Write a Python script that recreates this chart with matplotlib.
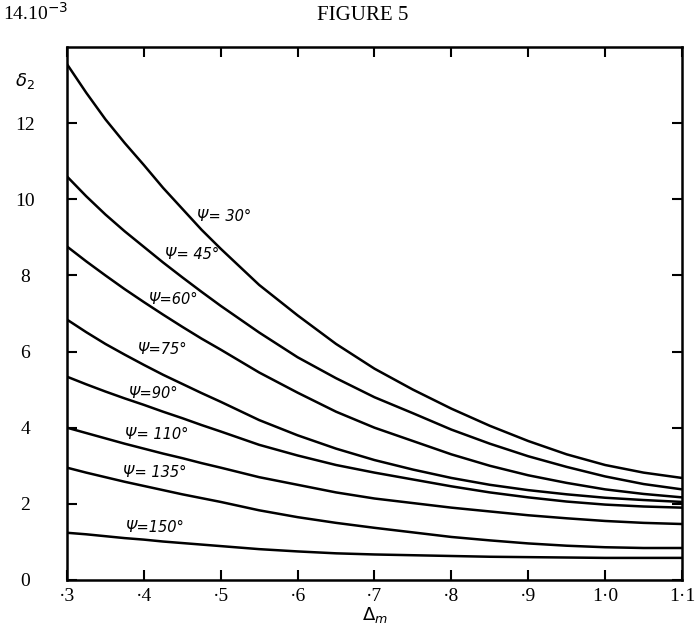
import numpy as np
import matplotlib.pyplot as plt

# delta_m values (x) and delta_2 curves (units of 1e-3)
delta_m = [0.300, 0.325, 0.350, 0.375, 0.400, 0.425, 0.450, 0.475, 0.50,
           0.55, 0.60, 0.65, 0.70, 0.75, 0.80, 0.85, 0.90, 0.95, 1.00,
           1.05, 1.10]

psi_30 = [13.55, 12.8, 12.1, 11.48, 10.9, 10.3, 9.75, 9.2, 8.7,
          7.75, 6.95, 6.2, 5.55, 5.0, 4.5, 4.05, 3.65, 3.3, 3.02,
          2.82, 2.68]
psi_45 = [10.6, 10.08, 9.6, 9.16, 8.75, 8.34, 7.95, 7.57, 7.2,
          6.5, 5.85, 5.3, 4.8, 4.38, 3.95, 3.58, 3.25, 2.97, 2.72,
          2.52, 2.38]
psi_60 = [8.76, 8.37, 8.0, 7.64, 7.3, 6.97, 6.65, 6.34, 6.05,
          5.45, 4.92, 4.42, 4.0, 3.65, 3.3, 3.0, 2.75, 2.55, 2.38,
          2.26, 2.17]
psi_75 = [6.84, 6.51, 6.2, 5.92, 5.65, 5.39, 5.15, 4.91, 4.68,
          4.2, 3.8, 3.45, 3.15, 2.9, 2.68, 2.5, 2.36, 2.25, 2.16,
          2.1, 2.05]
psi_90 = [5.34, 5.14, 4.95, 4.77, 4.6, 4.42, 4.25, 4.07, 3.9,
          3.55, 3.27, 3.02, 2.82, 2.64, 2.46, 2.3, 2.17, 2.06, 1.98,
          1.93, 1.9]
psi_110 = [4.0, 3.86, 3.72, 3.58, 3.45, 3.32, 3.2, 3.07, 2.95,
           2.7, 2.5, 2.3, 2.14, 2.02, 1.9, 1.8, 1.7, 1.62, 1.55,
           1.5, 1.47]
psi_135 = [2.95, 2.82, 2.7, 2.58, 2.47, 2.36, 2.25, 2.15, 2.05,
           1.83, 1.65, 1.5, 1.37, 1.25, 1.13, 1.04, 0.96, 0.9, 0.86,
           0.84, 0.84]
psi_150 = [1.24, 1.2, 1.15, 1.1, 1.06, 1.01, 0.97, 0.93, 0.89,
           0.81, 0.75, 0.7, 0.67, 0.65, 0.63, 0.61, 0.6, 0.59, 0.58,
           0.58, 0.58]

curves = [psi_30, psi_45, psi_60, psi_75, psi_90, psi_110, psi_135, psi_150]
curve_labels = ["Ψ= 30°", "Ψ= 45°", "Ψ=60°", "Ψ=75°", "Ψ=90°",
                "Ψ= 110°", "Ψ= 135°", "Ψ=150°"]
# where each curve label sits (x, y in data units)
label_x = [0.469, 0.428, 0.406, 0.391, 0.380, 0.376, 0.373, 0.376]
label_y = [9.55, 8.55, 7.37, 6.05, 4.9, 3.82, 2.82, 1.37]

x_ticks = [0.3, 0.4, 0.5, 0.6, 0.7, 0.8, 0.9, 1.0, 1.1]
x_ticklabels = ["·3", "·4", "·5", "·6", "·7", "·8", "·9", "1·0", "1·1"]
y_ticks = [0, 2, 4, 6, 8, 10, 12]
y_ticklabels = ["0", "2", "4", "6", "8", "10", "12"]

serif = "Liberation Serif"

fig = plt.figure(figsize=(6.97, 6.30), dpi=100)
ax = fig.add_axes([0.0961, 0.0794, 0.8824, 0.846])

for vals in curves:
    ax.plot(delta_m, vals, "-", color="k", lw=1.8, solid_capstyle="butt")

for txt, lx, ly in zip(curve_labels, label_x, label_y):
    ax.text(lx, ly, txt, fontsize=10.5, style="italic", family="DejaVu Sans",
            ha="left", va="center")

ax.set_xlim(0.3, 1.1)
ax.set_ylim(0, 14)
ax.set_xticks(x_ticks)
ax.set_xticklabels(x_ticklabels, family=serif, fontsize=14)
ax.set_yticks(y_ticks)
ax.set_yticklabels(y_ticklabels, family=serif, fontsize=14)
for lab in ax.get_yticklabels():
    lab.set_horizontalalignment("center")

ax.tick_params(axis="both", direction="in", length=7, width=1.5,
               top=True, right=True)
ax.tick_params(axis="y", pad=30)
ax.tick_params(axis="x", pad=6)
for sp in ax.spines.values():
    sp.set_linewidth(1.8)

ax.set_xlabel(r"$\Delta_m$", fontsize=13, labelpad=0)

fig.text(0.004, 0.962, r"14.10$^{-3}$", family=serif, fontsize=14,
         ha="left", va="bottom")
fig.text(0.022, 0.872, r"$\delta_2$", fontsize=13, ha="left", va="center")
fig.text(0.52, 0.975, "FIGURE 5", family=serif, fontsize=15,
         ha="center", va="center")

fig.savefig("out.png", dpi=100)
